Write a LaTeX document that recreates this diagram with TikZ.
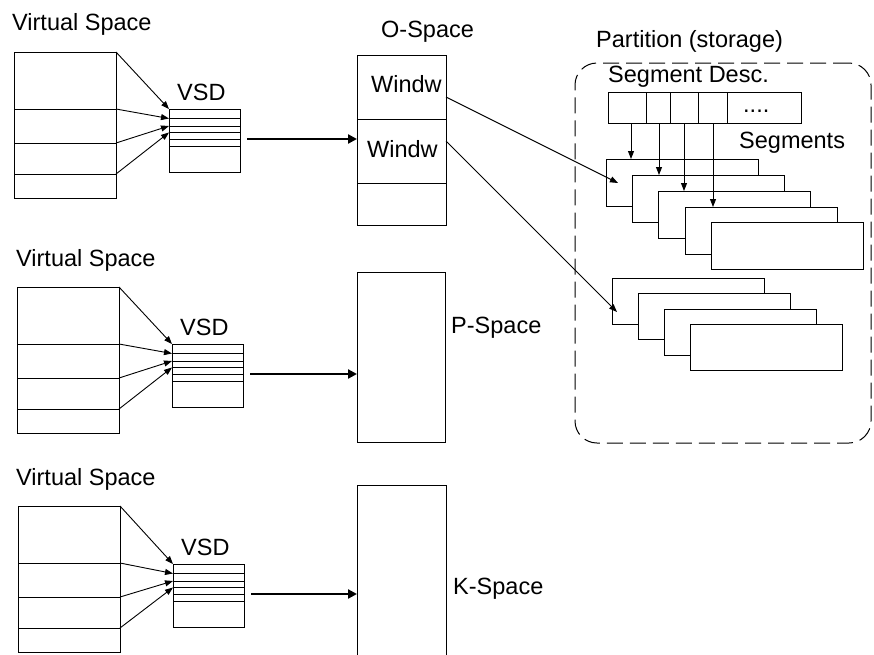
\documentclass[tikz,border=0pt]{standalone}
\usepackage{fontspec}
\setmainfont{Liberation Sans}
\usetikzlibrary{arrows.meta,calc}

\tikzset{
  box/.style={draw, line width=1pt, fill=white, inner sep=0pt, outer sep=0pt, anchor=north west},
  lbl/.style={inner sep=0pt, anchor=base west, font=\fontsize{23.5}{28}\selectfont},
  thinarrow/.style={line width=0.9pt, -{Triangle[length=8pt,width=6pt]}},
  bigarrow/.style={line width=2.6pt, -{Triangle[length=9pt,width=9pt]}},
  rowline/.style={line width=0.9pt}
}

% One virtual space with its descriptor table:
% #1 tag, #2/#3 space corner, #4/#5 descriptor corner, #6 target address space
\newcommand\VSGroup[6]{%
  \node[box, minimum width=102pt, minimum height=146pt] (#1vs) at (#2,#3) {};
  \foreach \d/\k in {57/1,91/2,122/3}{
    \draw[rowline] ($(#1vs.north west)+(0,\d)$) -- ($(#1vs.north east)+(0,\d)$);
    \coordinate (#1v\k) at ($(#1vs.north east)+(0,\d)$);
  }
  \node[box, minimum width=71pt, minimum height=63pt] (#1vsd) at (#4,#5) {};
  \foreach \r/\k in {9.5/1,17/2,23.5/3,30/4,37.5/5}{
    \draw[rowline] ($(#1vsd.north west)+(0,\r)$) -- ($(#1vsd.north east)+(0,\r)$);
    \coordinate (#1d\k) at ($(#1vsd.north west)+(0,\r)$);
  }
  \node[lbl] at ($(#1vsd.north west)+(8,-9)$) {VSD};
  \draw[thinarrow] (#1vs.north east) -- (#1vsd.north west);
  \draw[thinarrow] (#1v1) -- (#1d1);
  \draw[thinarrow] (#1v2) -- (#1d2);
  \draw[thinarrow] (#1v3) -- (#1d3);
  \coordinate (#1out) at ($(#1vsd.north east)+(7,30)$);
  \draw[bigarrow] (#1out) -- (#1out -| #6.west);
}

\begin{document}
\begin{tikzpicture}[x=1pt,y=-1pt]
\useasboundingbox (0,0) rectangle (874,654);
\clip (0,0) rectangle (874,654);

% address spaces
\node[box, minimum width=89pt, minimum height=170pt] (ospace) at (357,55) {};
\draw[rowline] ($(ospace.north west)+(0,64)$) -- ($(ospace.north east)+(0,64)$);
\draw[rowline] ($(ospace.north west)+(0,128)$) -- ($(ospace.north east)+(0,128)$);
\node[box, minimum width=88pt, minimum height=170pt] (pspace) at (357,272) {};
\node[box, minimum width=89pt, minimum height=185pt] (kspace) at (357,485) {};

\node[lbl] at (381,37) {O-Space};
\node[lbl] at (371,92) {Windw};
\node[lbl] at (367,157) {Windw};
\node[lbl] at (451,333) {P-Space};
\node[lbl] at (453,594) {K-Space};

% virtual spaces
\node[lbl] at (12,30) {Virtual Space};
\node[lbl] at (16,266) {Virtual Space};
\node[lbl] at (16,485) {Virtual Space};
\VSGroup{a}{14}{52}{169}{109}{ospace}
\VSGroup{b}{17}{287}{172}{344}{pspace}
\VSGroup{c}{18}{506}{173}{564}{kspace}

% partition
\node[lbl] at (596,47) {Partition (storage)};
\node[draw, line width=1pt, dash pattern=on 16pt off 7pt, rounded corners=22pt,
      inner sep=0pt, outer sep=0pt, anchor=north west,
      minimum width=296pt, minimum height=380pt] (part) at (575,63) {};
\node[lbl] at (608,82) {Segment Desc.};
\node[box, minimum width=38pt, minimum height=31pt] (d1) at (608,92) {};
\node[box, minimum width=24pt, minimum height=31pt] (d2) at (646,92) {};
\node[box, minimum width=28pt, minimum height=31pt] (d3) at (670,92) {};
\node[box, minimum width=29pt, minimum height=31pt] (d4) at (698,92) {};
\node[box, minimum width=74pt, minimum height=31pt] (d5) at (727,92) {};
\node[lbl] at (743,112) {....};
\node[lbl] at (739,148) {Segments};

% first segment stack
\node[box, minimum width=152pt, minimum height=47pt] (s1) at (606,159) {};
\node[box, minimum width=152pt, minimum height=47pt] (s2) at (632,175) {};
\node[box, minimum width=152pt, minimum height=47pt] (s3) at (658,191) {};
\node[box, minimum width=152pt, minimum height=47pt] (s4) at (685,207) {};
\node[box, minimum width=152pt, minimum height=47pt] (s5) at (711,222) {};

% second segment stack
\node[box, minimum width=152pt, minimum height=46pt] (t1) at (612,278) {};
\node[box, minimum width=152pt, minimum height=46pt] (t2) at (638,293) {};
\node[box, minimum width=152pt, minimum height=46pt] (t3) at (664,309) {};
\node[box, minimum width=152pt, minimum height=46pt] (t4) at (690,324) {};

% descriptor pointers
\coordinate (p1) at ($(d1.south west)+(23,0)$);
\coordinate (p2) at ($(d2.south west)+(13,0)$);
\coordinate (p3) at ($(d3.south west)+(14,0)$);
\coordinate (p4) at ($(d4.south west)+(15,0)$);
\draw[thinarrow] (p1) -- (p1 |- s1.north);
\draw[thinarrow] (p2) -- (p2 |- s2.north);
\draw[thinarrow] (p3) -- (p3 |- s3.north);
\draw[thinarrow] (p4) -- (p4 |- s4.north);

% window mappings
\coordinate (w1) at ($(ospace.north east)+(0,42)$);
\coordinate (w2) at ($(ospace.north east)+(0,86)$);
\coordinate (e1) at ($(s1.north west)+(12,24)$);
\coordinate (e2) at ($(t1.north west)+(5,34)$);
\draw[thinarrow] (w1) -- (e1);
\draw[thinarrow] (w2) -- (e2);
\end{tikzpicture}
\end{document}
